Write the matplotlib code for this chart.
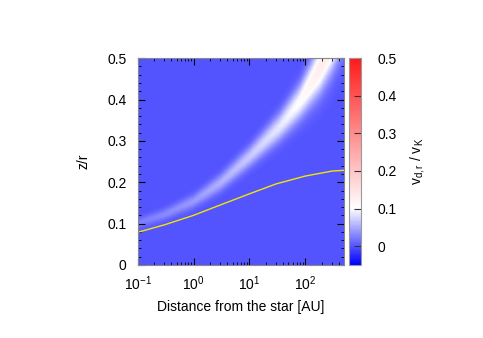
import numpy as np
import matplotlib
matplotlib.use('Agg')
import matplotlib.pyplot as plt
from matplotlib.colors import LinearSegmentedColormap
from matplotlib.ticker import FuncFormatter, MultipleLocator, LogLocator

plt.rcParams['font.family'] = ['Liberation Sans', 'DejaVu Sans']
plt.rcParams['mathtext.fontset'] = 'custom'
plt.rcParams['mathtext.rm'] = 'Liberation Sans'
plt.rcParams['mathtext.it'] = 'Liberation Sans:italic'

# ridge of the velocity map
ridge_r = [0.1, 0.3, 1, 3, 10, 35, 80, 184, 300, 500]
ridge_z = [0.102, 0.123, 0.155, 0.199, 0.262, 0.335, 0.395, 0.476, 0.54, 0.62]
ridge_peak = [0.025, 0.032, 0.042, 0.055, 0.07, 0.088, 0.105, 0.13, 0.14, 0.145]
ridge_width = [0.009, 0.010, 0.012, 0.015, 0.018, 0.024, 0.03, 0.042, 0.05, 0.058]
background = 0.0

# yellow line
line_r = [0.1, 0.3, 1, 3, 10, 30, 100, 300, 500]
line_z = [0.079, 0.097, 0.12, 0.145, 0.172, 0.196, 0.215, 0.227, 0.229]

r = np.logspace(-1, np.log10(500), 300)
z = np.linspace(0, 0.5, 250)
lr = np.log10(r)
lrr = np.log10(ridge_r)
zc = np.interp(lr, lrr, ridge_z)
pk = np.interp(lr, lrr, ridge_peak)
wd = np.interp(lr, lrr, ridge_width)
R, Z = np.meshgrid(r, z)
field = background + pk[None, :] * np.exp(-(Z - zc[None, :])**2 / (2 * wd[None, :]**2))

cmap = LinearSegmentedColormap.from_list(
    'bwr_v', [(0.0, (0, 0, 1)), (0.15 / 0.55, (1, 1, 1)), (1.0, (1, 0.1, 0.1))])

fig = plt.figure(figsize=(4.83, 3.38), dpi=100)
ax = fig.add_axes([0.285, 0.216, 0.428, 0.612])
cax = fig.add_axes([0.723, 0.216, 0.0236, 0.612])

mesh = ax.pcolormesh(r, z, field, cmap=cmap, vmin=-0.05, vmax=0.5, shading='gouraud')
ax.plot(line_r, line_z, color='#f2e600', linewidth=1.0)

ax.set_xscale('log')
ax.set_xlim(0.1, 500)
ax.set_ylim(0, 0.5)
ax.xaxis.set_major_locator(LogLocator(base=10, numticks=10))
ax.xaxis.set_minor_locator(LogLocator(base=10, subs=np.arange(2, 10), numticks=20))
ax.yaxis.set_major_locator(MultipleLocator(0.1))
ax.yaxis.set_minor_locator(MultipleLocator(0.02))
ax.yaxis.set_major_formatter(FuncFormatter(lambda v, p: f'{v:g}'))
ax.tick_params(which='both', direction='in', top=True, right=True, labelsize=10)
ax.tick_params(which='major', length=5, width=0.8)
ax.tick_params(which='minor', length=2.5, width=0.6)
ax.tick_params(axis='x', which='major', pad=7)
ax.tick_params(axis='y', which='major', pad=8)
for s in ax.spines.values():
    s.set_color('#888888')
ax.set_xlabel('Distance from the star [AU]', fontsize=10, labelpad=5)
ax.set_ylabel('z/r', fontsize=10, labelpad=12)

cb = fig.colorbar(mesh, cax=cax, ticks=[0, 0.1, 0.2, 0.3, 0.4, 0.5])
cb.ax.yaxis.set_major_formatter(FuncFormatter(lambda v, p: f'{v:g}'))
cb.ax.tick_params(direction='in', length=5, width=0.8, color='#333333', labelsize=10, pad=12)
cb.outline.set_edgecolor('#999999')
cb.set_label(r'$\mathrm{v_{d,r}\ /\ v_K}$', fontsize=10, labelpad=8)

plt.savefig('out.png', dpi=100)
